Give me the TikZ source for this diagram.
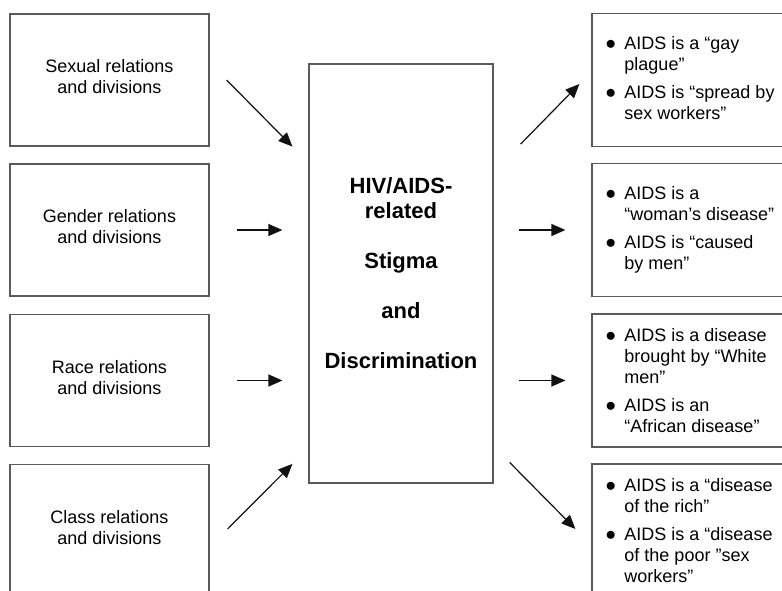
\documentclass[tikz,border=0pt]{standalone}
\usepackage{fontspec}
\setmainfont{Liberation Sans}
\usetikzlibrary{arrows.meta,positioning,calc}
\definecolor{BoxGrey}{HTML}{5A5A5A}
\definecolor{InkBlack}{HTML}{111111}

\tikzset{
  framebox/.style={draw=BoxGrey,line width=1.2pt,inner sep=0pt},
  causebox/.style={framebox,minimum width=199pt,minimum height=132pt},
  causetext/.style={align=center,inner sep=0pt,font=\fontsize{18}{21}\selectfont},
  mythbox/.style={framebox,minimum width=200pt,minimum height=133pt},
  mythtext/.style={anchor=west,inner sep=0pt,font=\fontsize{18}{21}\selectfont},
  flow/.style={-{Triangle[length=14pt,width=12pt]},InkBlack,line width=1.2pt}
}
\newcommand{\mythlist}[1]{\begin{tabular}{@{}l@{\hspace{8.5pt}}l@{}}#1\end{tabular}}
\newcommand{\mythdot}{{\fontsize{20}{21}\selectfont$\bullet$}}

\begin{document}
\begin{tikzpicture}[x=1pt,y=-1pt]
  \useasboundingbox (0,0) rectangle (782,591);
  \clip (0,0) rectangle (782,591);
  % causes on the left
  \foreach \nm/\y/\kind in {sex/80/Sexual,gen/230/Gender,race/380.5/Race,cls/530.5/Class}{
    \node[causebox] (\nm) at (109.5,\y) {};
    \node[causetext] (\nm txt) at ($(\nm)+(0,-3)$) {\kind\ relations\\and divisions};
  }
  % central box
  \node[framebox,minimum width=184pt,minimum height=419pt,align=center,
    font=\bfseries\fontsize{22}{25}\selectfont] (stig) at (401,273.5)
    {HIV/AIDS-\\related\\[25pt]Stigma\\[25pt]and\\[25pt]Discrimination};
  % myths on the right
  \foreach \nm/\y in {gay/80,wom/230,afr/380.5,rich/530.5}{
    \node[mythbox] (\nm) at (692,\y) {};
  }
  \node[mythtext] (gaytxt) at ($(gay.west)+(14,0)$) {\mythlist{
    \mythdot & AIDS is a “gay\\ & plague”\\[7pt]
    \mythdot & AIDS is “spread by\\ & sex workers”}};
  \node[mythtext] (womtxt) at ($(wom.west)+(14,0.5)$) {\mythlist{
    \mythdot & AIDS is a\\ & “woman’s disease”\\[7pt]
    \mythdot & AIDS is “caused\\ & by men”}};
  \node[mythtext] (afrtxt) at ($(afr.west)+(14,2)$) {\mythlist{
    \mythdot & AIDS is a disease\\ & brought by “White\\ & men”\\[7pt]
    \mythdot & AIDS is an\\ & “African disease”}};
  \node[mythtext] (richtxt) at ($(rich.west)+(14,2)$) {\mythlist{
    \mythdot & AIDS is a “disease\\ & of the rich”\\[7pt]
    \mythdot & AIDS is a “disease\\ & of the poor ”sex\\ & workers”}};
  % arrow ends
  \coordinate (in1a) at ($(sex.east)+(17,0)$);
  \coordinate (in1b) at ($(stig.west |- sex.south)+(-16,0)$);
  \coordinate (in2a) at ($(gen.east)+(27,0)$);
  \coordinate (in2b) at ($(stig.west |- gen.east)+(-26,0)$);
  \coordinate (in3a) at ($(race.east)+(27,0)$);
  \coordinate (in3b) at ($(stig.west |- race.east)+(-26,0)$);
  \coordinate (in4a) at ($(cls.east)+(18,-1.5)$);
  \coordinate (in4b) at ($(stig.west |- cls.north)+(-16,0)$);
  \coordinate (out1a) at ($(stig.east |- gay.south)+(27,-3)$);
  \coordinate (out1b) at ($(gay.west)+(-12,4)$);
  \coordinate (out2a) at ($(stig.east |- wom.west)+(25,0)$);
  \coordinate (out2b) at ($(wom.west)+(-26,0)$);
  \coordinate (out3a) at ($(stig.east |- afr.west)+(25,0)$);
  \coordinate (out3b) at ($(afr.west)+(-26,0)$);
  \coordinate (out4a) at ($(stig.east |- rich.north)+(16,-1)$);
  \coordinate (out4b) at ($(rich.west)+(-16,-1.5)$);
  \foreach \i in {1,...,4}{
    \draw[flow] (in\i a) -- (in\i b);
    \draw[flow] (out\i a) -- (out\i b);
  }
\end{tikzpicture}
\end{document}
